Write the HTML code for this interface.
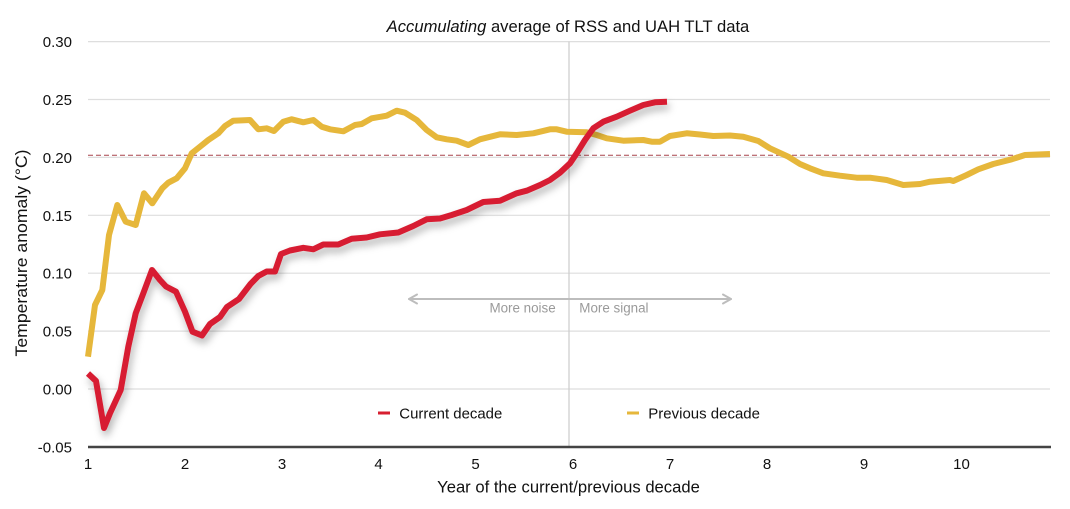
<!DOCTYPE html>
<html>
<head>
<meta charset="utf-8">
<style>
  html, body { margin: 0; padding: 0; background: #fff; }
  svg { display: block; }
  text { font-family: "Liberation Sans", Arial, sans-serif; fill: #111; }
</style>
</head>
<body>
<svg width="1070" height="509" viewBox="0 0 1070 509" xmlns="http://www.w3.org/2000/svg">
  <defs>
    <filter id="sh" x="-10%" y="-10%" width="120%" height="130%">
      <feDropShadow dx="2" dy="5" stdDeviation="4" flood-color="#000" flood-opacity="0.3"/>
    </filter>
  </defs>
  <rect width="1070" height="509" fill="#fff"/>

  <!-- title -->
  <text x="386.7" y="32" font-size="16.5" textLength="362.6" lengthAdjust="spacingAndGlyphs"><tspan font-style="italic">Accumulating</tspan> average of RSS and UAH TLT data</text>

  <!-- gridlines -->
  <g stroke="#dedede" stroke-width="1.2">
    <line x1="88" y1="41.6" x2="1050" y2="41.6"/>
    <line x1="88" y1="99.5" x2="1050" y2="99.5"/>
    <line x1="88" y1="157.4" x2="1050" y2="157.4"/>
    <line x1="88" y1="215.3" x2="1050" y2="215.3"/>
    <line x1="88" y1="273.2" x2="1050" y2="273.2"/>
    <line x1="88" y1="331.1" x2="1050" y2="331.1"/>
    <line x1="88" y1="389" x2="1050" y2="389"/>
  </g>

  <!-- vertical divider -->
  <line x1="569" y1="41.6" x2="569" y2="447" stroke="#cccccc" stroke-width="1.2"/>

  <!-- dashed reference line -->
  <line x1="88" y1="155.3" x2="1050" y2="155.3" stroke="#a8444c" stroke-width="1" stroke-dasharray="5,3"/>

  <!-- y tick labels -->
  <g font-size="15" text-anchor="end">
    <text x="72" y="47">0.30</text>
    <text x="72" y="105">0.25</text>
    <text x="72" y="163">0.20</text>
    <text x="72" y="221">0.15</text>
    <text x="72" y="278.5">0.10</text>
    <text x="72" y="336.5">0.05</text>
    <text x="72" y="394.5">0.00</text>
    <text x="72" y="452.5">-0.05</text>
  </g>

  <!-- y axis title -->
  <text transform="translate(27,253) rotate(-90)" font-size="16.5" text-anchor="middle" textLength="207" lengthAdjust="spacingAndGlyphs">Temperature anomaly (°C)</text>

  <!-- noise/signal arrow -->
  <g stroke="#bdbdbd" stroke-width="2" fill="none" stroke-linecap="round" stroke-linejoin="round">
    <line x1="409" y1="299" x2="731" y2="299"/>
    <polyline points="417,294.5 409,299 417,303.5"/>
    <polyline points="723,294.5 731,299 723,303.5"/>
  </g>
  <text x="555.7" y="312.5" font-size="13.4" text-anchor="end" style="fill:#9a9a9a">More noise</text>
  <text x="579.3" y="312.5" font-size="13.4" style="fill:#9a9a9a">More signal</text>

  <!-- previous decade (yellow) -->
  <polyline fill="none" stroke="#e6b73b" stroke-width="6" stroke-linejoin="round" stroke-linecap="butt"
    points="88,356.7 95,305 102.3,290 109,235 117.3,205 125.7,221.7 135.7,225 144,193.3 152.3,203.3 162.3,188.3 168.3,182.7 176.7,178.3 185,168.3 191.7,153.3 200,146.7 208.3,140 218.3,133.3 225,126 233.3,120.7 250,120 258.3,129.3 266.7,128.3 274,131 283.3,121.7 291.7,119.3 303.3,122.3 313.3,120 321.7,126.7 330,129.3 343.3,131.3 355,125 361.7,124 371.7,118.3 386.7,115.7 396.7,110.7 405,112.7 416.7,120 426.7,130 436.7,137.3 446.7,139.3 456.7,140.7 468.3,145 480,139.3 500,134.3 516.7,135 533.3,133.3 550,129.3 556.7,129.3 566.7,131.7 586.7,132.3 596.7,135 606.7,138.3 623.3,140.7 643.3,140 651.7,141.7 660,141.7 670,136 686.7,133.3 700,134.5 713.3,136 730,135.5 743.3,136.7 758.3,141 770,148.3 788.3,156.7 800,164 810,168.3 823.3,173.3 840,175.7 856.7,177.7 870,177.7 886.7,180 903.3,185 920,184 930,181.7 950,180 953.3,181 966.7,175 978.3,169.3 993.3,164 1011.7,159.3 1025,155 1050,154"/>

  <!-- current decade (red) -->
  <polyline fill="none" stroke="#d71f30" stroke-width="6" stroke-linejoin="round" stroke-linecap="butt" filter="url(#sh)"
    points="88,373.5 96,381 104,428 110,413.3 120.7,390 128.3,346.7 135.7,313.3 143.3,293.3 152,270 160,280 166,286.5 176,291.7 185,311.7 192.5,331.7 202,335.5 210,324 220,317 227,307 239,299 250.5,284 258.3,276 266.7,271.5 275,271.5 281,254 290,250.5 303.3,247.8 313.3,249.3 323.3,244.5 338.3,244.5 351.7,238.8 366.7,237.5 380,234.3 398.3,232.5 413.3,226 426.7,219.3 440,218.5 451.7,215 466.7,210 483.3,202 500,200.7 516.7,193.3 526.7,190.7 540,185 550,180 560,172.7 570,163.3 576.7,153.3 585,140 593.3,128.3 603.3,121.7 616.7,116.7 630,110.7 643.3,105 655,102.3 667,101.8"/>

  <!-- legend -->
  <line x1="378" y1="413" x2="390" y2="413" stroke="#d71f30" stroke-width="3"/>
  <text x="399.3" y="418.5" font-size="15" textLength="103" lengthAdjust="spacingAndGlyphs">Current decade</text>
  <line x1="627" y1="413" x2="639" y2="413" stroke="#e6b73b" stroke-width="3"/>
  <text x="648.3" y="418.5" font-size="15" textLength="111.7" lengthAdjust="spacingAndGlyphs">Previous decade</text>

  <!-- x axis -->
  <line x1="88" y1="447" x2="1051" y2="447" stroke="#444" stroke-width="2.5"/>
  <g font-size="15" text-anchor="middle">
    <text x="88" y="469">1</text>
    <text x="185" y="469">2</text>
    <text x="282" y="469">3</text>
    <text x="378.5" y="469">4</text>
    <text x="475.5" y="469">5</text>
    <text x="573" y="469">6</text>
    <text x="670" y="469">7</text>
    <text x="767" y="469">8</text>
    <text x="864" y="469">9</text>
    <text x="961.5" y="469">10</text>
  </g>
  <text x="568.5" y="492.3" font-size="16.5" text-anchor="middle" textLength="262.7" lengthAdjust="spacingAndGlyphs">Year of the current/previous decade</text>
</svg>
</body>
</html>
